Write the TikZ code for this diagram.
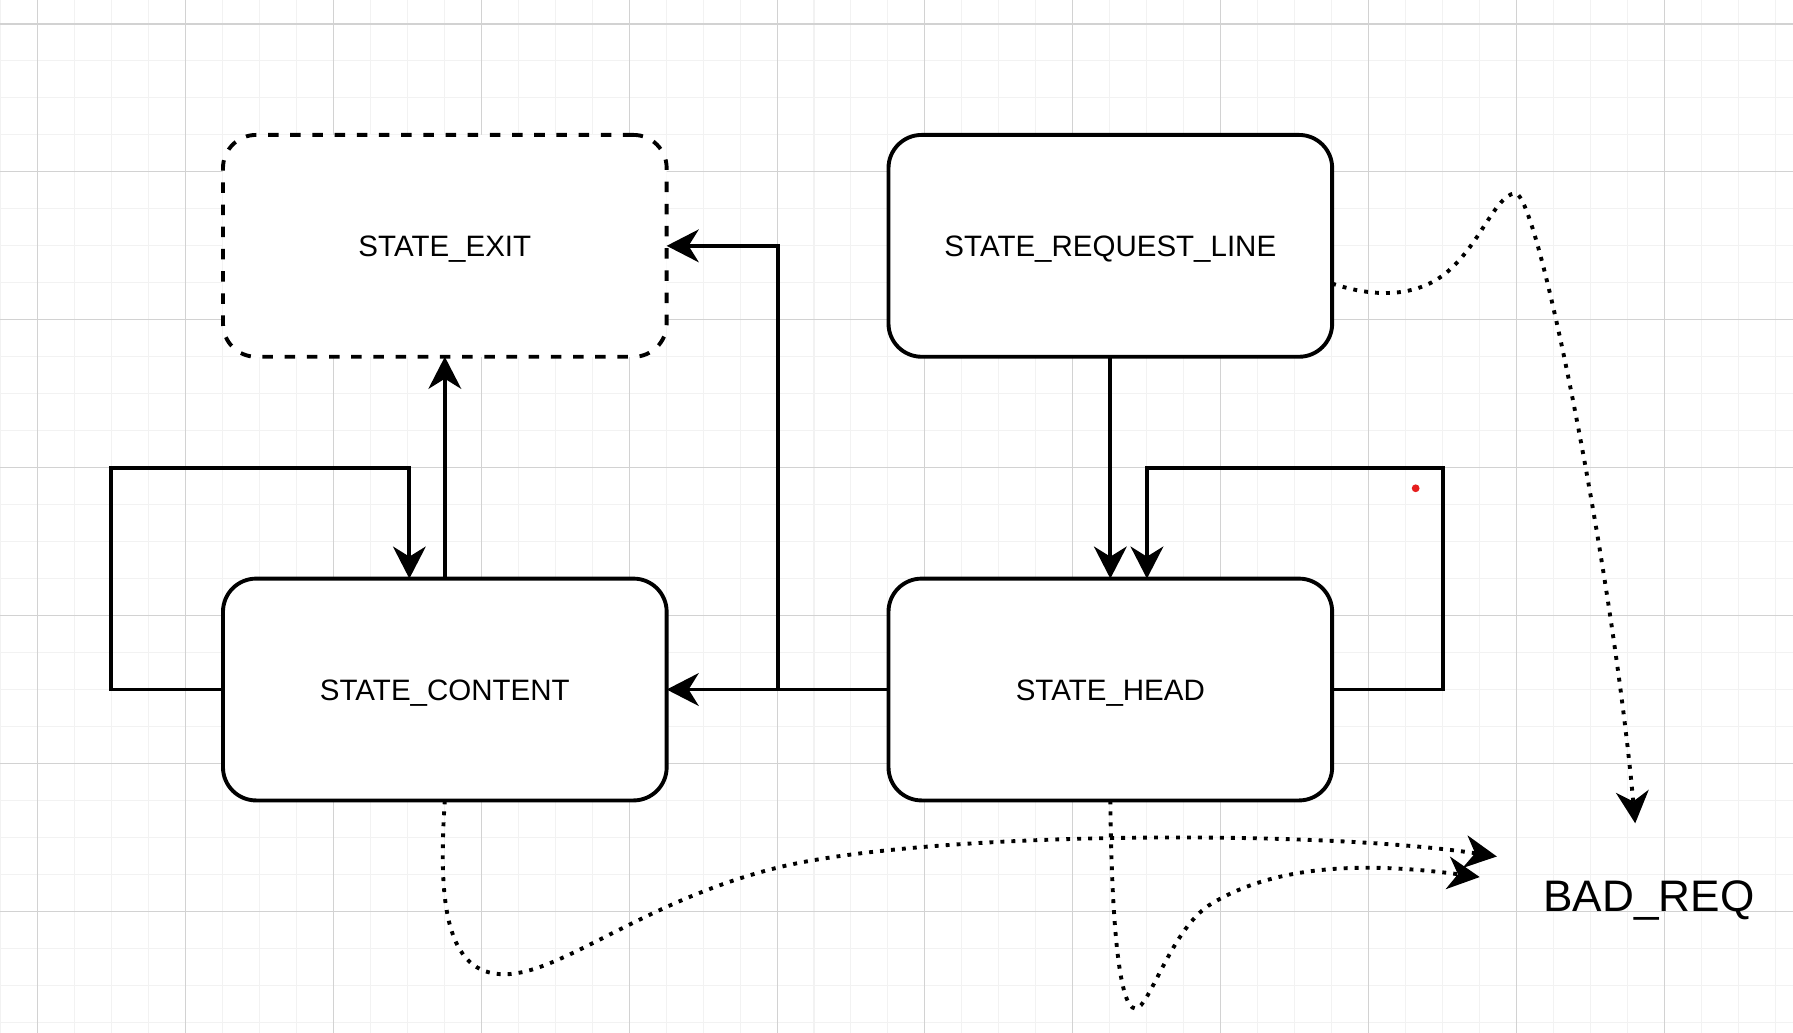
\documentclass[tikz,border=0pt]{standalone}
\usepackage{fontspec}
\setmainfont{Liberation Sans}
\usetikzlibrary{arrows.meta,calc}
\definecolor{gridmajor}{RGB}{210,210,210}
\definecolor{gridminor}{RGB}{242,242,242}
\definecolor{dotred}{RGB}{230,30,30}
\begin{document}
\begin{tikzpicture}[x=0.5pt,y=-0.5pt,
  state/.style={draw, line width=1.7pt, fill=white, rounded corners=14.5pt,
    minimum width=194pt, minimum height=97pt, inner sep=0pt, outer sep=0pt,
    font=\fontsize{12.9}{15}\selectfont, text height=9.2pt, text depth=0pt},
  exitstate/.style={state, dash pattern=on 4.6pt off 5.1pt},
  tipstyle/.style={-{Stealth[length=14pt,width=14.3pt,inset=4.4pt]}},
  conn/.style={line width=1.7pt, tipstyle},
  dotconn/.style={line width=1.7pt, dash pattern=on 1.7pt off 3.1pt, tipstyle},
  minorline/.style={gridminor, line width=0.45pt},
  majorline/.style={gridmajor, line width=0.45pt},
  badlabel/.style={font=\fontsize{19.3}{23}\selectfont, text height=13.8pt, text depth=0pt, inner sep=0pt}
]
\useasboundingbox (0,0) rectangle (1568,903);
\fill[white] (0,0) rectangle (1568,903);
% grid
\foreach \i in {-1,...,47} \draw[minorline] ({32.9+32.33*\i},0) -- ({32.9+32.33*\i},903);
\foreach \j in {0,...,27} \draw[minorline] (0,{21+32.33*\j}) -- (1568,{21+32.33*\j});
\foreach \i in {0,...,11} \draw[majorline] ({32.9+129.32*\i},0) -- ({32.9+129.32*\i},903);
\foreach \j in {0,...,6} \draw[majorline] (0,{21+129.32*\j}) -- (1568,{21+129.32*\j});

% states
\node[exitstate] (exit) at (389,215) {STATE\_EXIT};
\node[state] (req) at (971,215) {STATE\_REQUEST\_LINE};
\node[state] (content) at (389,603) {STATE\_CONTENT};
\node[state] (head) at (971,603) {STATE\_HEAD};
\node[badlabel] (bad) at (1442,783.5) {BAD\_REQ};

% helper coordinates
\coordinate (cl1) at (97,409);
\coordinate (cl2) at (358,409);
\coordinate (hl1) at (1262,409);
\coordinate (hl2) at (1003,409);
\coordinate (hx) at (680,215);
\coordinate (tipA) at (1430,720);
\coordinate (tipB) at (1309,749);
\coordinate (tipC) at (1294,767);

% solid connectors
\draw[conn] (content.north) -- (exit.south);
\draw[conn] (content.west) -| (cl1) -- (cl2) -- (cl2 |- content.north);
\draw[conn] (head.west) -- (content.east);
\draw[conn] (head.west) -| (hx) -- (exit.east);
\draw[conn] (req.south) -- (head.north);
\draw[conn] (head.east) -| (hl1) -- (hl2) -- (hl2 |- head.north);

% dotted connectors
\draw[dotconn] ([yshift=-16.5pt]req.east) .. controls (1195,258) and (1225,260) .. (1250,248)
  .. controls (1290,229) and (1305,171) .. (1325,169)
  .. controls (1345,167) and (1410,500) .. (tipA);
\draw[dotconn] (content.south) .. controls (383,790) and (390,852) .. (441,852)
  .. controls (490,852) and (560,790) .. (675,760)
  .. controls (800,727) and (1150,725) .. (tipB);
\draw[dotconn] (head.south) .. controls (972,800) and (978,882) .. (993,882)
  .. controls (1005,882) and (1025,810) .. (1060,790)
  .. controls (1110,760) and (1180,752) .. (tipC);

% red dot
\fill[dotred] (1238,427) circle[radius=1.7pt];
\end{tikzpicture}
\end{document}
